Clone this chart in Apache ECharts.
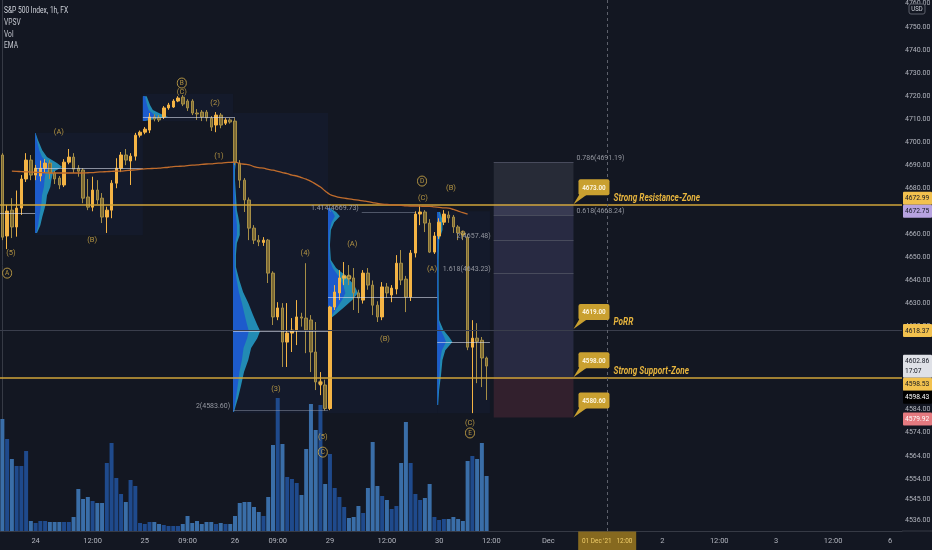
<!DOCTYPE html>
<html>
<head>
<meta charset="utf-8">
<script src="https://cdn.jsdelivr.net/npm/echarts@6/dist/echarts.min.js"></script>
<style>
html,body{margin:0;padding:0;background:#131722;overflow:hidden}
#chart{width:932px;height:550px}
</style>
</head>
<body>
<div id="chart"></div>
<script>
// ================= DATA =================
const slotCount = 190;
const xTickLabels = [[7,'24'],[19,'12:00'],[30,'25'],[39,'09:00'],[49,'26'],[58,'09:00'],[69,'29'],[81,'12:00'],[92,'30'],[103,'12:00'],[115,'Dec'],[139,'2'],[151,'12:00'],[163,'3'],[175,'12:00'],[187,'6']];
const priceTicks = [4760,4750,4740,4730,4720,4710,4700,4690,4680,4670,4660,4650,4640,4630,4620,4606,4584,4574,4564,4554,4545,4536];

const opens = [4694.4,4659.3,4670.5,4663.2,4671.4,4684.0,4692.2,4685.7,4685.3,4688.7,4690.9,4686.6,4684.4,4681.4,4691.3,4693.5,4688.7,4687.9,4676.2,4671.8,4679.2,4675.7,4667.5,4670.5,4682.2,4688.7,4694.4,4691.8,4693.9,4703.0,4704.3,4705.2,4710.9,4710.5,4710.9,4714.8,4715.2,4717.8,4719.5,4717.8,4717.8,4712.6,4713.0,4713.0,4710.4,4707.4,4711.7,4708.2,4709.6,4709.1,4690.9,4683.5,4674.9,4662.7,4657.5,4656.5,4657.5,4643.2,4624.2,4628.1,4613.3,4617.2,4618.5,4624.2,4623.7,4622.9,4609.0,4594.7,4594.7,4584.5,4628.5,4634.6,4641.1,4641.9,4641.1,4634.6,4631.5,4643.2,4638.0,4629.3,4624.2,4637.2,4633.7,4636.3,4647.5,4640.6,4632.8,4651.9,4668.8,4669.7,4664.9,4652.3,4659.3,4665.3,4668.4,4667.5,4663.2,4660.6,4658.8,4611.1,4615.0,4614.1,4606.4];
const closes = [4658.8,4670.1,4663.2,4671.4,4684.0,4692.2,4685.7,4688.7,4688.7,4690.9,4686.6,4684.0,4681.4,4691.3,4693.5,4688.3,4687.4,4675.7,4671.8,4679.2,4674.9,4667.5,4670.5,4682.2,4688.7,4694.4,4692.2,4693.9,4703.0,4704.3,4705.6,4710.9,4710.0,4709.6,4714.8,4716.1,4717.8,4719.1,4716.5,4714.8,4712.6,4712.2,4710.9,4710.5,4706.5,4711.7,4707.4,4709.6,4708.7,4691.3,4683.5,4674.9,4662.7,4657.5,4656.7,4657.5,4643.2,4624.2,4628.1,4613.3,4617.2,4618.5,4624.2,4623.7,4618.5,4609.0,4596.0,4596.0,4584.5,4628.5,4635.0,4641.1,4641.9,4640.6,4634.6,4632.4,4643.2,4638.0,4629.3,4624.2,4637.2,4634.6,4636.7,4647.5,4640.2,4632.8,4651.9,4668.8,4669.7,4664.9,4652.3,4659.3,4665.3,4668.8,4667.1,4663.2,4660.6,4659.7,4611.1,4615.0,4613.6,4606.4,4602.9];
const highs = [4695.2,4672.7,4675.7,4679.0,4685.7,4695.2,4694.4,4690.1,4692.0,4692.6,4692.2,4687.5,4685.3,4692.6,4697.0,4695.2,4690.0,4688.7,4684.0,4685.0,4683.5,4677.9,4672.0,4683.5,4693.0,4695.7,4697.0,4695.2,4704.0,4705.0,4706.5,4712.6,4712.0,4711.7,4715.6,4717.0,4718.6,4719.9,4720.4,4718.6,4718.6,4714.3,4713.9,4713.9,4711.3,4713.0,4712.6,4710.4,4710.4,4710.4,4692.2,4684.4,4676.0,4664.0,4659.7,4658.8,4658.0,4644.0,4630.6,4630.2,4630.2,4623.7,4631.5,4626.0,4647.5,4625.0,4622.0,4600.3,4597.0,4629.0,4638.0,4644.5,4648.0,4646.7,4645.4,4636.0,4644.5,4645.4,4640.0,4631.0,4639.3,4638.9,4638.0,4651.0,4653.2,4642.0,4653.2,4670.0,4672.7,4670.5,4666.6,4661.0,4667.0,4670.5,4670.0,4668.4,4664.0,4661.5,4660.0,4622.8,4621.5,4615.5,4607.0];
const lows = [4657.5,4653.6,4658.4,4659.0,4668.4,4682.7,4683.5,4683.5,4683.0,4687.0,4684.0,4681.8,4679.6,4680.5,4690.4,4686.6,4685.0,4673.5,4670.5,4670.0,4673.1,4664.9,4660.6,4667.0,4680.0,4687.0,4690.0,4681.4,4692.0,4702.0,4703.4,4703.9,4709.0,4708.7,4710.0,4714.0,4714.8,4717.3,4715.6,4713.5,4711.7,4709.6,4709.1,4709.0,4704.8,4704.3,4706.0,4707.4,4708.0,4690.0,4680.1,4669.7,4657.5,4655.8,4654.9,4655.0,4638.9,4620.7,4622.8,4602.5,4602.5,4609.0,4612.0,4620.0,4608.5,4600.3,4592.5,4590.3,4583.6,4583.8,4627.2,4631.5,4638.0,4638.0,4627.2,4625.9,4630.0,4636.0,4625.0,4622.0,4622.8,4632.5,4630.6,4634.0,4638.0,4626.3,4631.1,4650.0,4664.0,4661.0,4651.9,4651.5,4658.0,4664.0,4665.0,4660.6,4657.5,4657.5,4609.8,4582.5,4595.5,4593.8,4588.2];
const volumes = [112,92,72,65,65,80,10,8,10,10,9,9,9,9,9,14,42,32,34,30,28,28,68,88,53,37,29,51,45,8,7,9,9,7,6,5,5,5,7,15,8,10,7,9,9,7,8,7,7,15,28,29,29,24,19,15,34,86,133,87,54,52,48,36,82,127,101,126,47,77,43,34,24,13,14,25,18,43,89,45,35,31,22,25,68,109,68,37,31,33,47,14,11,12,12,14,12,10,70,75,72,88,55];
const ema = [null,null,4687.4,4687.3,4687.2,4687.1,4687.0,4686.9,4686.8,4686.7,4686.6,4686.6,4686.6,4686.6,4686.6,4686.6,4686.6,4686.6,4686.7,4686.8,4687.0,4687.1,4687.2,4687.3,4687.4,4687.4,4687.6,4687.8,4688.0,4688.2,4688.4,4688.5,4688.6,4688.7,4688.9,4689.1,4689.4,4689.5,4689.6,4689.8,4690.0,4690.1,4690.3,4690.5,4690.6,4690.8,4690.9,4691.1,4691.2,4691.3,4690.7,4690.4,4690.1,4689.4,4688.9,4688.7,4688.2,4687.8,4687.3,4686.8,4686.3,4685.7,4685.3,4684.6,4683.9,4683.0,4681.8,4680.5,4678.8,4677.3,4676.6,4676.0,4675.7,4675.4,4675.1,4674.8,4674.5,4674.2,4673.8,4673.4,4673.1,4673.0,4672.8,4672.7,4672.6,4672.4,4672.3,4672.3,4672.2,4672.1,4672.1,4671.9,4671.7,4671.5,4671.4,4670.8,4670.1,4669.4,4668.8];

// volume profiles: [price, relative volume (in bar widths)]
const vpStarts = [6.9, 29.6, 48.6, 68.6, 91.6];
const vpA = [[4703.9,0.1],[4700.9,0.6],[4696.5,1.5],[4693.5,2.5],[4690.9,4.6],[4689.2,5.7],[4687.0,3.8],[4683.5,3.4],[4680.5,3.2],[4677.0,2.5],[4673.6,2.3],[4670.5,1.9],[4667.5,1.5],[4664.0,1.1],[4660.6,0.4]];
const vpB = [[4719.9,0.8],[4718.2,1.1],[4716.1,1.5],[4713.9,2.1],[4712.2,3.8],[4710.9,5.3],[4710.0,2.5],[4709.1,0.4]];
const vpC = [[4691.3,0.6],[4687.9,0.4],[4683.5,0.4],[4677.0,0.6],[4670.5,0.8],[4667.5,1.1],[4664.0,1.4],[4659.7,1.4],[4656.2,0.8],[4651.0,0.6],[4645.8,0.6],[4640.2,1.3],[4635.0,2.1],[4630.2,3.2],[4625.0,4.2],[4620.7,5.1],[4618.1,5.7],[4615.0,5.1],[4610.7,3.8],[4605.5,3.2],[4600.3,2.3],[4594.7,1.7],[4589.5,1.1],[4586.0,0.6],[4583.0,0.2]];
const vpD = [[4671.4,0.4],[4669.7,1.7],[4667.9,2.5],[4665.3,1.3],[4661.9,0.6],[4655.4,0.4],[4648.9,0.6],[4645.4,1.7],[4641.9,3.8],[4638.0,5.5],[4634.6,6.3],[4631.5,5.1],[4628.1,3.2],[4625.5,1.7],[4623.3,0.4]];
const vpE = [[4669.7,0.6],[4666.2,1.1],[4661.9,1.1],[4657.5,0.4],[4648.9,0.3],[4635.9,0.3],[4622.9,0.4],[4618.5,1.3],[4615.5,2.5],[4613.3,3.2],[4609.8,1.7],[4605.5,1.1],[4599.0,0.8],[4592.5,0.4],[4586.0,0.2]];
const vpSessions = [[6.9,29.6,4704.0,4659.6],[29.6,48.6,4721.0,4709.0],[48.6,68.6,4712.6,4582.5],[68.6,91.6,4672.0,4582.5],[91.6,102.7,4670.0,4582.5]];
const pocLines = [[-0.5,6.9,4669.2],[6.9,29.6,4688.7],[29.6,49.0,4710.9],[48.6,68.6,4618.1],[68.6,91.6,4632.8],[91.6,102.7,4613.3]];

// wave labels: [text, circled, bar, price]
const waveLabels = [['(5)',0,1.8,4651.9],['A',1,1.0,4643.2],['(A)',0,11.9,4704.3],['(B)',0,18.9,4657.5],['B',1,37.8,4725.6],['(C)',0,37.8,4721.7],['(2)',0,44.8,4716.9],['(1)',0,45.6,4693.9],['(4)',0,63.8,4651.9],['(3)',0,57.6,4592.9],['(5)',0,67.5,4572.1],['C',1,67.5,4565.6],['(A)',0,73.7,4655.8],['(B)',0,80.6,4614.6],['D',1,88.4,4683.1],['(C)',0,88.6,4675.7],['(B)',0,94.5,4680.1],['(A)',0,90.5,4644.9],['(C)',0,98.5,4578.2],['E',1,98.5,4573.9]];
const markerDots = [[67,4595.6],[72,4641.5],[73,4641.5],[97,4660.6]];

// drawing tools
const toolLeft = 103.5, toolRight = 120.3;
const fibTop = 4691.19, fibLow = 4668.24;
const targetLevel = 4673.00, entryLevel = 4598.00, stopLevel = 4580.60;
const fibLevels = [['0.786(4691.19)',4691.19,'end'],['0.618(4668.24)',4668.24,'end'],['2(4657.48)',4657.48,'start'],['1.618(4643.23)',4643.23,'start']];
const callouts = [[4673.00,'Strong Resistance-Zone'],[4619.00,'PoRR'],[4598.00,'Strong Support-Zone'],[4580.60,'']];
const lastPriceLine = 4618.37;
const crosshairX = 127.4;
const axisTags = [
  {price:4672.99, text:'4672.99', bg:'#f2c14e', fg:'#131722'},
  {price:4672.75, text:'4672.75', bg:'#b7a3e0', fg:'#131722'},
  {price:4618.37, text:'4618.37', bg:'#f2c14e', fg:'#131722'},
  {price:4602.86, text:'4602.86\n17:07', bg:'#dfe1e7', fg:'#131722', fixed:true, h:23},
  {price:4598.53, text:'4598.53', bg:'#f2c14e', fg:'#131722'},
  {price:4598.43, text:'4598.43', bg:'#000000', fg:'#ffffff'},
  {price:4579.92, text:'4579.92', bg:'#e57a80', fg:'#ffffff'}
];
const legendLines = ['S&P 500 Index, 1h, FX','VPSV','Vol','EMA'];

// ================= CHART =================
const FF = 'Roboto, "Liberation Sans", sans-serif';
const GOLD = '#d0a43a';
const WAVE = '#d9b24a';
const chart = echarts.init(document.getElementById('chart'), null, {renderer:'canvas'});

const labelMap = {};
xTickLabels.forEach(([i,t]) => labelMap[i] = t);
const cats = Array.from({length: slotCount}, (_, i) => String(i));
const candleData = opens.map((o, i) => [o, closes[i], lows[i], highs[i]]);
const volData = volumes.map((v, i) => ({value: v, itemStyle: {color: closes[i] >= opens[i] ? '#1f4a8c' : '#3a6ea8'}}));
const profiles = [vpA, vpB, vpC, vpD, vpE];

const hseg = (x1, x2, p, style, label) => [
  Object.assign({coord: [x1, p], lineStyle: style}, label ? {label} : {}),
  {coord: [x2, p]}
];
const poc = {color: 'rgba(215,220,235,0.6)', width: 1, type: 'solid'};
const fibLabel = (txt, pos) => ({show: true, position: pos, formatter: txt, color: '#9598a1', fontSize: 7, fontFamily: FF, distance: 3, offset: [0, -4]});

const lineMarks = [
  hseg(-0.5, 189.5, lastPriceLine, {color: '#3a3e4c', width: 1, type: 'solid'}),
  hseg(-0.5, 189.5, targetLevel, {color: GOLD, width: 1.5, type: 'solid'}),
  hseg(-0.5, 189.5, entryLevel, {color: GOLD, width: 1.5, type: 'solid'}),
  ...pocLines.map(([a, b, p]) => hseg(a, b, p, poc)),
  hseg(48.6, 68.6, 4583.6, {color: 'rgba(150,160,180,0.45)', width: 1, type: 'solid'}, fibLabel('2(4583.60)', 'start')),
  hseg(75.7, 87.0, 4669.73, {color: 'rgba(150,160,180,0.45)', width: 1, type: 'solid'}, fibLabel('1.414(4669.73)', 'start')),
  ...fibLevels.map(([t, p, pos]) => hseg(toolLeft, toolRight, p, {color: '#484b5c', width: 1, type: 'solid'}, fibLabel(t, pos))),
  [{coord: [crosshairX, 4761.6], lineStyle: {color: '#5d606b', width: 1, type: [3, 3]}}, {coord: [crosshairX, 4531.4]}]
];

const areaMarks = [
  ...vpSessions.map(([a, b, hi, lo]) => [{coord: [a, hi], itemStyle: {color: 'rgba(41,98,255,0.045)'}}, {coord: [b, lo]}]),
  [{coord: [toolLeft, fibTop], itemStyle: {color: 'rgba(120,123,140,0.20)'}}, {coord: [toolRight, fibLow]}],
  [{coord: [toolLeft, targetLevel], itemStyle: {color: 'rgba(120,112,180,0.22)'}}, {coord: [toolRight, entryLevel]}],
  [{coord: [toolLeft, entryLevel], itemStyle: {color: 'rgba(165,70,85,0.22)'}}, {coord: [toolRight, stopLevel]}]
];

const option = {
  backgroundColor: '#131722',
  animation: false,
  grid: {left: 0, right: 30, top: 0, bottom: 19, containLabel: false, outerBoundsMode: 'none'},
  xAxis: [
    {type: 'category', data: cats, boundaryGap: true,
     axisLine: {show: true, lineStyle: {color: '#363a45'}},
     axisTick: {show: false},
     axisLabel: {interval: 0, color: '#b2b5be', fontSize: 7.5, fontFamily: FF, margin: 6, formatter: (v, i) => labelMap[i] || ''},
     splitLine: {show: false}},
    {type: 'value', min: -0.5, max: slotCount - 0.5, show: false}
  ],
  yAxis: [
    {type: 'value', position: 'right', min: 4531.4, max: 4761.6, scale: true,
     axisLine: {show: true, lineStyle: {color: '#363a45'}},
     axisTick: {show: false},
     splitLine: {show: false},
     axisLabel: {color: '#b2b5be', fontSize: 7, fontFamily: FF, margin: 3, align: 'left',
                 customValues: priceTicks, formatter: v => v.toFixed(2)}},
    {type: 'value', min: 0, max: 531, show: false}
  ],
  series: [
    {type: 'line', name: 'areas', xAxisIndex: 1, yAxisIndex: 0, data: [], z: 1, silent: true,
     markArea: {silent: true, data: areaMarks}},
    {type: 'bar', name: 'Vol', xAxisIndex: 0, yAxisIndex: 1, data: volData, barWidth: 4, z: 2, silent: true},
    {type: 'custom', name: 'VPSV', xAxisIndex: 1, yAxisIndex: 0, z: 3, silent: true,
     data: vpStarts.map((s, i) => [s, profiles[i][0][0]]),
     renderItem: (params, api) => {
       const rows = profiles[params.dataIndex];
       const s = vpStarts[params.dataIndex];
       const outer = [api.coord([s, rows[0][0]])];
       const inner = [api.coord([s, rows[0][0]])];
       rows.forEach(r => { outer.push(api.coord([s + r[1], r[0]])); inner.push(api.coord([s + r[1] * 0.58, r[0]])); });
       outer.push(api.coord([s, rows[rows.length - 1][0]]));
       inner.push(api.coord([s, rows[rows.length - 1][0]]));
       return {type: 'group', children: [
         {type: 'polygon', shape: {points: outer}, style: {fill: 'rgba(36,160,205,0.85)'}},
         {type: 'polygon', shape: {points: inner}, style: {fill: 'rgba(30,88,205,0.95)'}}
       ]};
     }},
    {type: 'candlestick', name: 'S&P 500', xAxisIndex: 0, yAxisIndex: 0, data: candleData, barWidth: 3, z: 4,
     itemStyle: {color: '#f4b445', color0: '#7a6834', borderColor: '#f4b445', borderColor0: '#a68e46', borderWidth: 1}},
    {type: 'line', name: 'EMA', xAxisIndex: 0, yAxisIndex: 0, data: ema, showSymbol: false, smooth: true, z: 5,
     lineStyle: {color: '#c06c2c', width: 1.3}},
    {type: 'line', name: 'lines', xAxisIndex: 1, yAxisIndex: 0, data: [], z: 6, silent: true,
     markLine: {silent: true, symbol: ['none', 'none'], label: {show: false}, data: lineMarks}},
    {type: 'scatter', name: 'dots', xAxisIndex: 1, yAxisIndex: 0, z: 7, silent: true,
     data: markerDots, symbol: 'circle', symbolSize: 4,
     itemStyle: {color: 'rgba(0,0,0,0)', borderColor: WAVE, borderWidth: 1}},
    {type: 'scatter', name: 'waves', xAxisIndex: 1, yAxisIndex: 0, z: 8, silent: true, symbolSize: 1,
     itemStyle: {color: 'rgba(0,0,0,0)'},
     data: waveLabels.map(w => ({value: [w[2], w[3]], label: {formatter: w[1] ? '{c|' + w[0] + '}' : w[0]}})),
     label: {show: true, position: 'inside', color: WAVE, fontSize: 7.5, fontFamily: FF,
             rich: {c: {color: WAVE, fontSize: 6.5, fontFamily: FF, borderColor: WAVE, borderWidth: 1, borderRadius: 6,
                        width: 9, height: 9, lineHeight: 10, align: 'center', padding: [1, 0, 0, 0]}}}}
  ]
};
chart.setOption(option);

// ---- overlays positioned through the chart's own scales ----
function txt(x, y, text, font, fill, align, sx, z) {
  return {type: 'text', z: z || 111, x: x, y: y, scaleX: sx || 1, originX: 0, originY: 0,
          style: {text: text, x: 0, y: 0, align: align || 'left', verticalAlign: 'middle', fill: fill, font: font, lineHeight: 10}};
}
function buildGraphics() {
  const g = [];
  const P = (x, p) => chart.convertToPixel({xAxisIndex: 1, yAxisIndex: 0}, [x, p]);
  const Y = p => chart.convertToPixel({yAxisIndex: 0}, p);

  // callouts
  callouts.forEach(([price, note]) => {
    const [ax, ay] = P(toolRight, price);
    const bx = ax + 5, by = ay - 25, bw = 31, bh = 16;
    g.push({type: 'polygon', z: 100, shape: {points: [[ax, ay], [bx + 1, by + bh - 1], [bx + 9, by + bh - 1]]}, style: {fill: '#c9a030'}});
    g.push({type: 'rect', z: 100, shape: {x: bx, y: by, width: bw, height: bh, r: 2}, style: {fill: '#c9a030'}});
    g.push(txt(bx + bw / 2, by + bh / 2 + 0.5, price.toFixed(2), 'bold 7px ' + FF, '#fbf3dc', 'center', 0.9));
    if (note) g.push(txt(ax + 40, ay - 6, note, 'italic bold 10px ' + FF, '#e6b43e', 'left', 0.82));
  });

  // price axis tags with overlap layout
  const tags = axisTags.map(t => Object.assign({}, t, {y: Y(t.price), h: t.h || 13}));
  tags.sort((a, b) => a.y - b.y);
  const clusters = [];
  const place = c => {
    const f = c.items.findIndex(i => i.fixed);
    if (f >= 0) { let before = 0; for (let k = 0; k < f; k++) before += c.items[k].h; c.top = c.items[f].y - c.items[f].h / 2 - before; }
    else { const m = c.items.reduce((s, i) => s + i.y, 0) / c.items.length; c.top = m - c.h / 2; }
    let yy = c.top; c.items.forEach(i => { i.top = yy; yy += i.h; });
  };
  tags.forEach(t => {
    const c = clusters[clusters.length - 1];
    if (c && t.y - t.h / 2 < c.top + c.h) { c.items.push(t); c.h += t.h; place(c); }
    else { const n = {items: [t], h: t.h}; place(n); clusters.push(n); }
  });
  const axX = chart.getWidth() - 30;
  tags.forEach(t => {
    g.push({type: 'rect', z: 110, shape: {x: axX + 1, y: t.top, width: 29, height: t.h, r: 1}, style: {fill: t.bg}});
    g.push(txt(axX + 3, t.top + t.h / 2 + 0.5, t.text, '7px ' + FF, t.fg, 'left', 0.95));
  });

  // USD box at top of price scale
  g.push({type: 'rect', z: 110, shape: {x: axX + 7, y: 4, width: 16, height: 10, r: 2}, style: {fill: '#131722', stroke: '#5d606b', lineWidth: 1}});
  g.push(txt(axX + 15, 9.5, 'USD', '7px ' + FF, '#d1d4dc', 'center', 0.85));

  // bottom separator under the price scale
  const bottomY = chart.getHeight() - 19;
  g.push({type: 'line', z: 90, shape: {x1: axX, y1: bottomY, x2: chart.getWidth(), y2: bottomY}, style: {stroke: '#363a45', lineWidth: 1}});

  // crosshair time label
  const [cx] = P(crosshairX, 4600);
  g.push({type: 'rect', z: 110, shape: {x: cx - 29, y: bottomY + 0.5, width: 58, height: 18.5}, style: {fill: '#86691f'}});
  g.push(txt(cx, bottomY + 9.5, "01 Dec '21   12:00", '8px ' + FF, '#f0cd68', 'center', 0.8));

  // legend (top-left)
  legendLines.forEach((t, i) => {
    g.push(txt(4, 11 + i * 11.7, t, '9px ' + FF, i === 0 ? '#d1d4dc' : '#c3c6ce', 'left', 0.74, 120));
  });
  return g;
}
chart.setOption({graphic: buildGraphics()});
</script>
</body>
</html>
